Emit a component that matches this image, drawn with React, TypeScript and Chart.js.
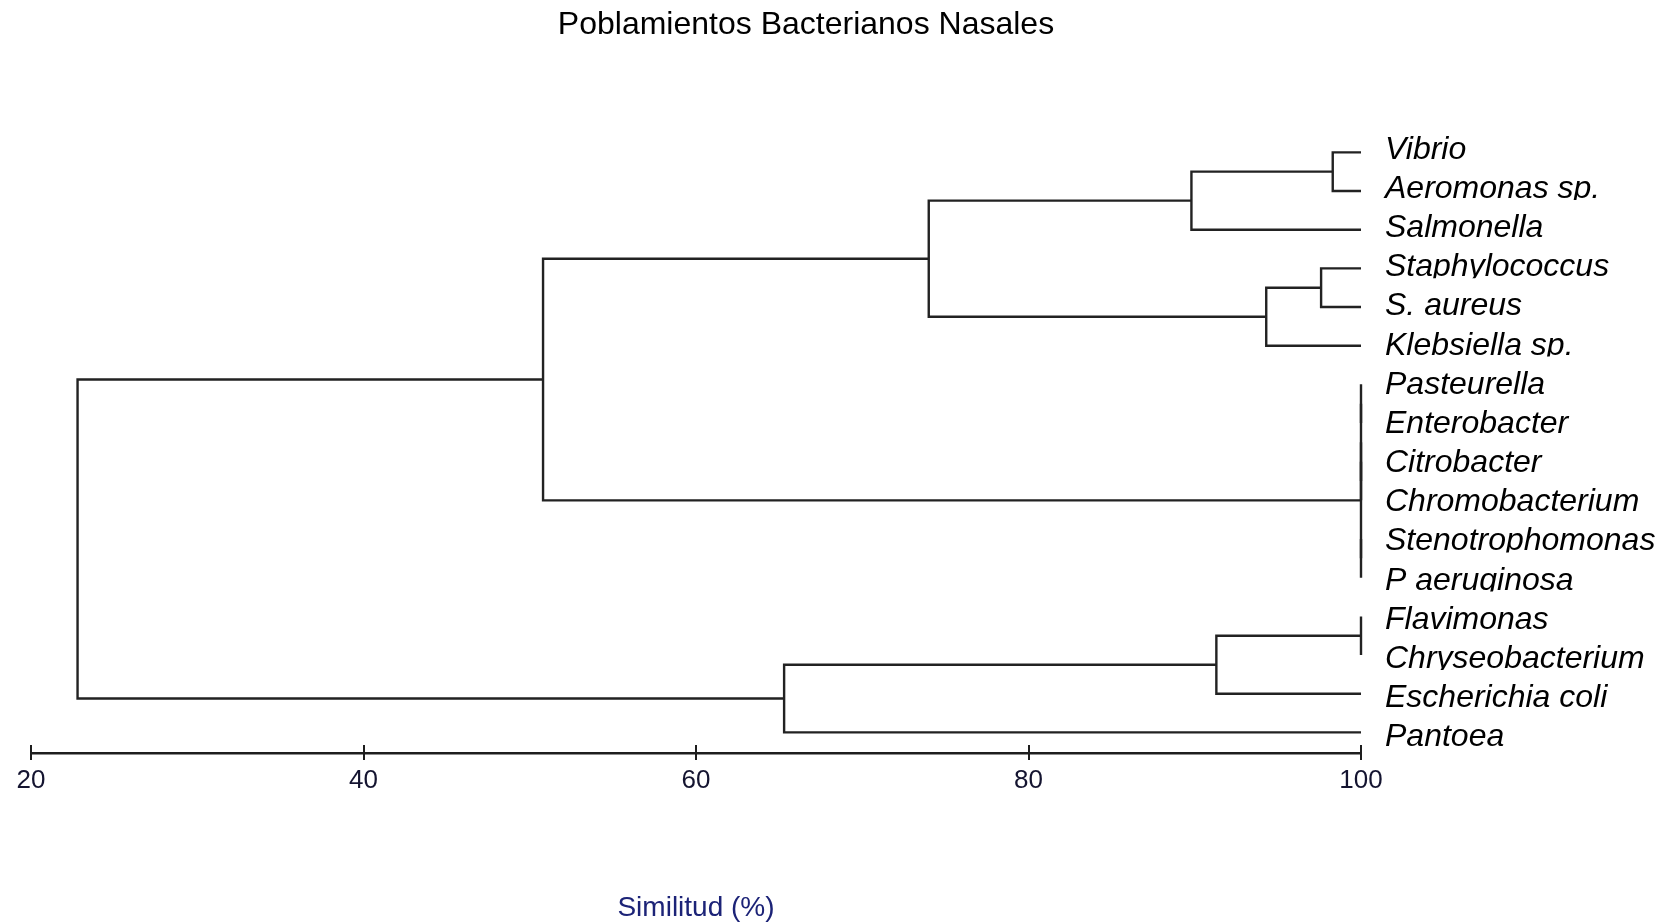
import React, { useEffect, useRef } from "react";
import { Chart, registerables } from "chart.js";

Chart.register(...registerables);

// ---- Data ----
const chartTitle = "Poblamientos Bacterianos Nasales";
const axisTitle = "Similitud (%)";

const leafLabels = [
  "Vibrio",
  "Aeromonas sp.",
  "Salmonella",
  "Staphylococcus",
  "S. aureus",
  "Klebsiella sp.",
  "Pasteurella",
  "Enterobacter",
  "Citrobacter",
  "Chromobacterium",
  "Stenotrophomonas",
  "P aeruginosa",
  "Flavimonas",
  "Chryseobacterium",
  "Escherichia coli",
  "Pantoea",
];

// Merge steps: "L#" = leaf index, "M#" = earlier merge index
const mergeLeft = ["L0", "M0", "L3", "M2", "M1", "L6", "L8", "M5", "L10", "M7", "M4", "L12", "M11", "M12", "M10"];
const mergeRight = ["L1", "L2", "L4", "L5", "M3", "L7", "L9", "M6", "L11", "M8", "M9", "L13", "L14", "L15", "M13"];
const mergeHeight = [98.3, 89.8, 97.6, 94.3, 74.0, 100, 100, 100, 100, 100, 50.8, 100, 91.3, 65.3, 22.8];

const xTickValues = [20, 40, 60, 80, 100];
const leafHeight = 100;

// ---- Build dendrogram segments ----
function buildSegments() {
  const nodeY: number[] = [];
  const nodeH: number[] = [];
  const get = (ref: string) => {
    const idx = parseInt(ref.slice(1), 10);
    if (ref[0] === "L") return { y: idx, h: leafHeight };
    return { y: nodeY[idx], h: nodeH[idx] };
  };
  const sets: { x: number; y: number }[][] = [];
  for (let i = 0; i < mergeHeight.length; i++) {
    const a = get(mergeLeft[i]);
    const b = get(mergeRight[i]);
    const h = mergeHeight[i];
    sets.push([
      { x: a.h, y: a.y },
      { x: h, y: a.y },
      { x: h, y: b.y },
      { x: b.h, y: b.y },
    ]);
    nodeY[i] = (a.y + b.y) / 2;
    nodeH[i] = h;
  }
  return sets;
}

const FONT = "'Liberation Sans', Arial, Helvetica, sans-serif";

export default function App() {
  const ref = useRef<HTMLCanvasElement | null>(null);

  useEffect(() => {
    if (!ref.current) return;
    const segs = buildSegments();

    const titlePlugin = {
      id: "customTitle",
      afterDraw(chart: any) {
        const ctx = chart.ctx;
        ctx.save();
        ctx.font = `32px ${FONT}`;
        ctx.fillStyle = "#000";
        ctx.textAlign = "center";
        ctx.textBaseline = "middle";
        ctx.fillText(chartTitle, 806, 25);
        ctx.restore();
      },
    };

    // leaf labels, drawn at the y scale's positions, clipped just below the baseline
    const leafLabelPlugin = {
      id: "leafLabels",
      afterDraw(chart: any) {
        const ys = chart.scales.y;
        const ctx = chart.ctx;
        const x = ys.left + 24;
        ctx.save();
        ctx.font = `italic 32px ${FONT}`;
        ctx.fillStyle = "#000";
        ctx.textAlign = "left";
        ctx.textBaseline = "alphabetic";
        leafLabels.forEach((lab, i) => {
          const py = ys.getPixelForValue(i);
          const base = py + 6.4 + 0.5 * i;
          ctx.save();
          ctx.beginPath();
          ctx.rect(x - 4, base - 30, chart.width - x + 4, 32);
          ctx.clip();
          ctx.fillText(lab, x, base);
          ctx.restore();
        });
        ctx.restore();
      },
    };

    const crossTicks = {
      id: "crossTicks",
      afterDraw(chart: any) {
        const xs = chart.scales.x;
        const ctx = chart.ctx;
        const y = xs.top;
        ctx.save();
        ctx.strokeStyle = "#1e1e1e";
        ctx.lineWidth = 2;
        xs.ticks.forEach((t: any) => {
          const px = Math.round(xs.getPixelForValue(t.value));
          ctx.beginPath();
          ctx.moveTo(px, y - 8);
          ctx.lineTo(px, y + 7);
          ctx.stroke();
        });
        ctx.restore();
      },
    };

    const chart = new Chart(ref.current, {
      type: "scatter",
      data: {
        datasets: segs.map((pts) => ({
          data: pts,
          showLine: true,
          borderColor: "#222222",
          borderWidth: 2.4,
          pointRadius: 0,
          tension: 0,
          clip: false,
        })),
      },
      options: {
        responsive: false,
        animation: false,
        devicePixelRatio: 1,
        events: [],
        layout: { padding: { left: 31, top: 133, right: 0, bottom: 0 } },
        plugins: {
          legend: { display: false },
          tooltip: { enabled: false },
          title: { display: false },
        },
        scales: {
          x: {
            type: "linear",
            position: "bottom",
            min: 20,
            max: 100,
            afterBuildTicks: (s: any) => {
              s.ticks = xTickValues.map((v) => ({ value: v }));
            },
            afterFit: (s: any) => {
              s.height = 170;
            },
            grid: { display: false, drawTicks: false },
            border: { display: true, color: "#1e1e1e", width: 2.4 },
            ticks: {
              padding: 12,
              color: "#141430",
              font: { family: FONT, size: 26 },
              maxRotation: 0,
            },
            title: {
              display: true,
              text: axisTitle,
              color: "#1c2377",
              font: { family: FONT, size: 28, lineHeight: 1.05 },
              padding: { top: 0, bottom: 0 },
            },
          },
          y: {
            type: "linear",
            position: "right",
            reverse: true,
            min: -0.5,
            max: 15.533,
            afterBuildTicks: (s: any) => {
              s.ticks = leafLabels.map((_, i) => ({ value: i }));
            },
            afterFit: (s: any) => {
              s.width = 306;
            },
            grid: { display: false, drawTicks: false },
            border: { display: false },
            ticks: { display: false },
          },
        },
      },
      plugins: [titlePlugin, leafLabelPlugin, crossTicks],
    });
    return () => chart.destroy();
  }, []);

  return (
    <div style={{ position: "absolute", left: 0, top: 0, width: 1667, height: 923, background: "#fff" }}>
      <canvas ref={ref} width={1667} height={923} style={{ display: "block" }} />
    </div>
  );
}
